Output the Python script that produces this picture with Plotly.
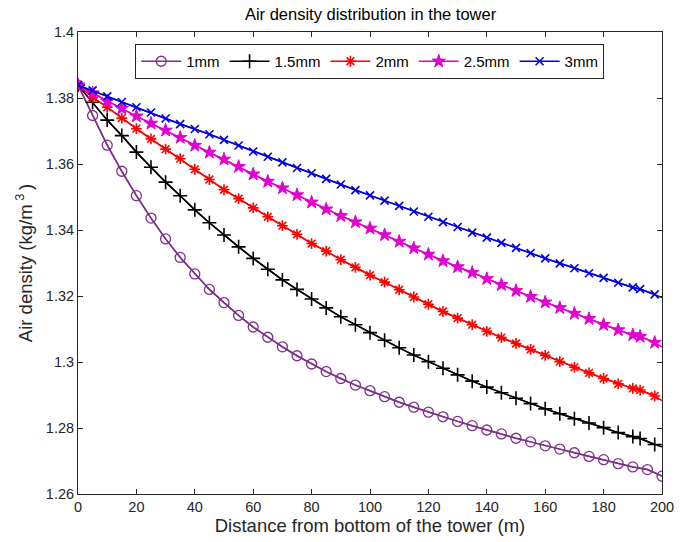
import plotly.graph_objects as go

# ---- data ----
series_names = ["1mm", "1.5mm", "2mm", "2.5mm", "3mm"]

x_1mm = list(range(0, 205, 5))
x_other = list(range(0, 195, 5)) + [192.5, 197.5, 200]

y_1mm = [1.3839, 1.3747, 1.3657, 1.3578, 1.3504, 1.3436, 1.3373, 1.3317, 1.3267, 1.3220,
         1.3180, 1.3141, 1.3106, 1.3075, 1.3046, 1.3019, 1.2994, 1.2971, 1.2950, 1.2930,
         1.2913, 1.2895, 1.2878, 1.2863, 1.2848, 1.2834, 1.2820, 1.2807, 1.2794, 1.2782,
         1.2769, 1.2758, 1.2746, 1.2736, 1.2725, 1.2714, 1.2704, 1.2692, 1.2682, 1.2674,
         1.2654]
y_1p5mm = [1.3839, 1.3787, 1.3733, 1.3686, 1.3636, 1.3590, 1.3545, 1.3504, 1.3461, 1.3422,
           1.3385, 1.3349, 1.3314, 1.3281, 1.3249, 1.3220, 1.3191, 1.3164, 1.3137, 1.3113,
           1.3089, 1.3066, 1.3043, 1.3021, 1.3001, 1.2981, 1.2961, 1.2942, 1.2924, 1.2907,
           1.2890, 1.2874, 1.2858, 1.2843, 1.2828, 1.2815, 1.2801, 1.2786, 1.2774,
           1.2768, 1.2750, 1.2743]
y_2mm = [1.3839, 1.3802, 1.3772, 1.3739, 1.3707, 1.3676, 1.3645, 1.3616, 1.3584, 1.3553,
         1.3522, 1.3495, 1.3467, 1.3440, 1.3413, 1.3387, 1.3359, 1.3336, 1.3310, 1.3287,
         1.3263, 1.3242, 1.3219, 1.3197, 1.3175, 1.3153, 1.3133, 1.3113, 1.3093, 1.3074,
         1.3056, 1.3038, 1.3020, 1.3001, 1.2984, 1.2967, 1.2950, 1.2934, 1.2920,
         1.2915, 1.2897, 1.2883]
y_2p5mm = [1.3839, 1.3815, 1.3790, 1.3768, 1.3745, 1.3723, 1.3702, 1.3680, 1.3656, 1.3635,
           1.3614, 1.3592, 1.3569, 1.3547, 1.3527, 1.3506, 1.3484, 1.3463, 1.3443, 1.3424,
           1.3405, 1.3385, 1.3365, 1.3345, 1.3326, 1.3306, 1.3288, 1.3271, 1.3252, 1.3234,
           1.3216, 1.3198, 1.3181, 1.3164, 1.3147, 1.3131, 1.3113, 1.3097, 1.3082,
           1.3077, 1.3059, 1.3046]
y_3mm = [1.3839, 1.3823, 1.3805, 1.3788, 1.3772, 1.3756, 1.3738, 1.3721, 1.3706, 1.3690,
         1.3673, 1.3656, 1.3638, 1.3622, 1.3605, 1.3588, 1.3572, 1.3555, 1.3538, 1.3521,
         1.3505, 1.3489, 1.3473, 1.3456, 1.3440, 1.3424, 1.3409, 1.3392, 1.3377, 1.3361,
         1.3346, 1.3330, 1.3314, 1.3299, 1.3284, 1.3269, 1.3255, 1.3240, 1.3226,
         1.3221, 1.3205, 1.3195]

x_ticks = [0, 20, 40, 60, 80, 100, 120, 140, 160, 180, 200]
y_ticks = [1.26, 1.28, 1.30, 1.32, 1.34, 1.36, 1.38, 1.40]
y_tick_labels = ["1.26", "1.28", "1.3", "1.32", "1.34", "1.36", "1.38", "1.4"]

# ---- style ----
styles = [
    dict(color="#7E2F8E", symbol="circle-open", size=10, mlw=1.3, n_mark=None),
    dict(color="#000000", symbol="cross-thin-open", size=10, mlw=1.6, n_mark=-1),
    dict(color="#FF0000", symbol="asterisk-open", size=9, mlw=1.6, n_mark=-1),
    dict(color="#E000D0", symbol="star", size=10, mlw=1.0, n_mark=-1),
    dict(color="#0000E0", symbol="x-thin-open", size=8, mlw=1.6, n_mark=-1),
]
xs = [x_1mm, x_other, x_other, x_other, x_other]
ys = [y_1mm, y_1p5mm, y_2mm, y_2p5mm, y_3mm]

font_family = "Liberation Sans, Arial, Helvetica, sans-serif"
txt = "#262626"

fig = go.Figure()
for name, x, y, st in zip(series_names, xs, ys, styles):
    # full line
    fig.add_trace(go.Scatter(x=x, y=y, mode="lines", showlegend=False,
                             line=dict(color=st["color"], width=1.5), hoverinfo="skip"))
    xm = x if st["n_mark"] is None else x[:st["n_mark"]]
    ym = y if st["n_mark"] is None else y[:st["n_mark"]]
    fig.add_trace(go.Scatter(x=xm, y=ym, mode="lines+markers", name=name,
                             line=dict(color=st["color"], width=1.5),
                             marker=dict(symbol=st["symbol"], size=st["size"], color=st["color"],
                                         line=dict(color=st["color"], width=st["mlw"]))))

axis_common = dict(showline=True, linecolor=txt, linewidth=1, mirror="ticks", ticks="inside",
                   ticklen=5, tickcolor=txt, showgrid=False, zeroline=False,
                   tickfont=dict(family=font_family, size=14.5, color=txt))

fig.update_layout(
    width=690, height=542,
    margin=dict(l=78, r=28, t=32, b=48),
    paper_bgcolor="white", plot_bgcolor="white",
    font=dict(family=font_family, color=txt),
    title=dict(text="Air density distribution in the tower", x=0.537, xanchor="center",
               y=0.974, yanchor="middle", font=dict(size=16.5, color="#000000")),
    xaxis=dict(range=[0, 200], tickvals=x_ticks, automargin=False,
               title=dict(text="Distance from bottom of the tower (m)", standoff=3,
                          font=dict(size=18.5, color=txt)), **axis_common),
    yaxis=dict(range=[1.26, 1.40], tickvals=y_ticks, ticktext=y_tick_labels, automargin=False,
               title=dict(text="Air density (kg/m<sup> 3 </sup>)", standoff=8,
                          font=dict(size=18.5, color=txt)), **axis_common),
    legend=dict(orientation="h", x=0.098, y=0.974, xanchor="left", yanchor="top",
                bgcolor="white", bordercolor=txt, borderwidth=1,
                font=dict(family=font_family, size=15, color="#000000"),
                itemwidth=40, tracegroupgap=0),
    showlegend=True,
)

fig.write_html("out.html", config={"displayModeBar": False},
               post_script="document.body.style.margin='0';")
